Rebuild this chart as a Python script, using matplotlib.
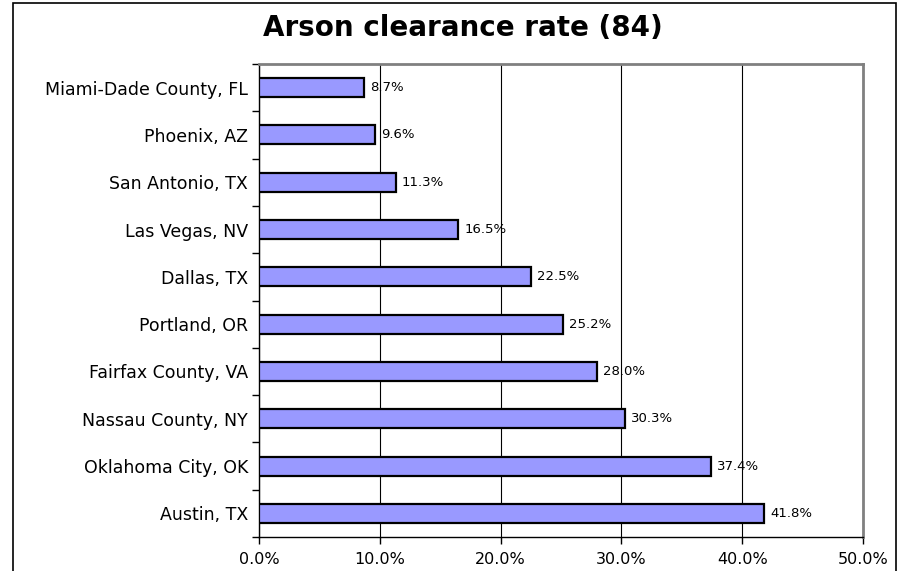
import matplotlib.pyplot as plt
from matplotlib.patches import Rectangle
from matplotlib.ticker import FixedLocator, PercentFormatter

cities = ['Miami-Dade County, FL', 'Phoenix, AZ', 'San Antonio, TX', 'Las Vegas, NV',
          'Dallas, TX', 'Portland, OR', 'Fairfax County, VA', 'Nassau County, NY',
          'Oklahoma City, OK', 'Austin, TX']
rates = [8.7, 9.6, 11.3, 16.5, 22.5, 25.2, 28.0, 30.3, 37.4, 41.8]
x_ticks = [0, 10, 20, 30, 40, 50]

fig = plt.figure(figsize=(9.04, 5.71), dpi=100)
ax = fig.add_axes([259 / 904, 1 - 537 / 571, (863 - 259) / 904, (537 - 64) / 571])

# outer chart border
fig.add_artist(Rectangle((13 / 904, -0.05), (896 - 13) / 904, 1.05 - 3 / 571,
                         transform=fig.transFigure, fill=False, edgecolor='black', linewidth=1.2))

ypos = list(range(len(cities)))
ax.barh(ypos, rates, height=0.4, color='#9999FF', edgecolor='black', linewidth=1.6, zorder=3)

for y, v in zip(ypos, rates):
    ax.text(v + 0.5, y, f'{v:.1f}%', va='center', ha='left', fontsize=9.5, family='DejaVu Sans')

ax.set_xlim(0, 50)
ax.set_ylim(len(cities) - 0.5, -0.5)
ax.set_xticks(x_ticks)
ax.xaxis.set_major_formatter(PercentFormatter(decimals=1))
ax.set_yticks(ypos)
ax.set_yticklabels(cities)
ax.yaxis.set_minor_locator(FixedLocator([i - 0.5 for i in range(len(cities) + 1)]))
ax.tick_params(axis='y', which='major', length=0, pad=8, labelsize=12.5)
ax.tick_params(axis='y', which='minor', length=5, width=1, direction='out')
ax.tick_params(axis='x', length=5, width=1, pad=6, labelsize=11.5)

ax.grid(axis='x', color='black', linewidth=0.8, zorder=0)
for s in ['top', 'right']:
    ax.spines[s].set_color('#808080')
    ax.spines[s].set_linewidth(2)
for s in ['left', 'bottom']:
    ax.spines[s].set_color('black')
    ax.spines[s].set_linewidth(1)

fig.text(463 / 904, 1 - 28 / 571, 'Arson clearance rate (84)', ha='center', va='center',
         fontsize=20, fontweight='bold', family='DejaVu Sans')

fig.savefig('out.png', dpi=100)
